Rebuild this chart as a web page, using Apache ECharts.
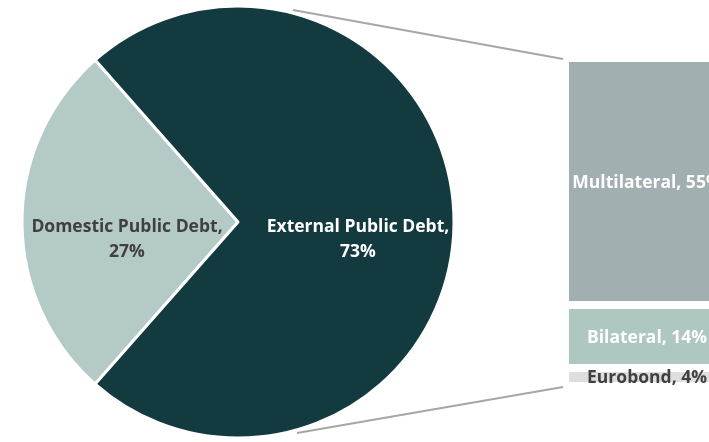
<!DOCTYPE html>
<html>
<head>
<meta charset="utf-8">
<script src="https://cdn.jsdelivr.net/npm/echarts@6/dist/echarts.min.js"></script>
<style>html,body{margin:0;padding:0;background:#fff;}#c{width:709px;height:442px;}</style>
</head>
<body>
<div id="c"></div>
<script>
// ---- data ----
var pieCategories = ['Domestic Public Debt', 'External Public Debt'];
var pieValues = [27, 73];
var barCategories = ['Eurobond', 'Bilateral', 'Multilateral'];
var barValues = [4, 14, 55];

// ---- styling ----
var pieColors = ['#b4cac6', '#133a3f'];
var pieLabelColors = ['#404040', '#ffffff'];
var barColors = ['#dedede', '#aec7c1', '#a1afb1'];
var barLabelColors = ['#404040', '#ffffff', '#ffffff'];
var FONT = 'Open Sans';
var FS = 17.5;

var chart = echarts.init(document.getElementById('c'));
var cx = 238, cy = 222, R = 216;
var startAngle = 180 + pieValues[0] / (pieValues[0] + pieValues[1]) * 360 / 2;
var barTotal = barValues.reduce(function (a, b) { return a + b; }, 0);

var barSeries = barCategories.map(function (name, i) {
  return {
    type: 'bar', name: name, stack: 'ext', barWidth: '100%',
    data: [barValues[i]],
    itemStyle: { color: barColors[i], borderColor: '#fff', borderWidth: 4 },
    label: {
      show: true, position: 'inside', offset: [0, 1],
      formatter: function (p) { return p.seriesName + ', ' + p.value + '%'; },
      color: barLabelColors[i], fontFamily: FONT, fontWeight: 'bold', fontSize: FS
    },
    z: 3
  };
});

chart.setOption({
  animation: false,
  grid: { left: 565, top: 58, bottom: 56, right: -20, containLabel: false, outerBoundsMode: 'none' },
  xAxis: { type: 'category', data: ['External'], show: false },
  yAxis: { type: 'value', min: 0, max: barTotal, show: false },
  graphic: [
    { type: 'line', z: 0, shape: { x1: 293, y1: 10, x2: 563, y2: 59 }, style: { stroke: '#a6a6a6', lineWidth: 2 } },
    { type: 'line', z: 0, shape: { x1: 297, y1: 433, x2: 563, y2: 387 }, style: { stroke: '#a6a6a6', lineWidth: 2 } }
  ],
  series: [{
    type: 'pie', center: [cx, cy], radius: R, startAngle: startAngle, clockwise: true,
    z: 5,
    data: pieCategories.map(function (n, i) {
      return {
        name: n, value: pieValues[i],
        itemStyle: { color: pieColors[i] },
        label: {
          color: pieLabelColors[i],
          offset: i === 0 ? [0, 18] : [9, 18]
        }
      };
    }),
    itemStyle: { borderColor: '#fff', borderWidth: 3 },
    label: {
      show: true, position: 'inside',
      formatter: function (p) { return p.name + ',\n' + p.value + '%'; },
      fontFamily: FONT, fontWeight: 'bold', fontSize: FS, lineHeight: 25, align: 'center'
    },
    labelLine: { show: false },
    emphasis: { disabled: true }
  }].concat(barSeries)
});
</script>
</body>
</html>
